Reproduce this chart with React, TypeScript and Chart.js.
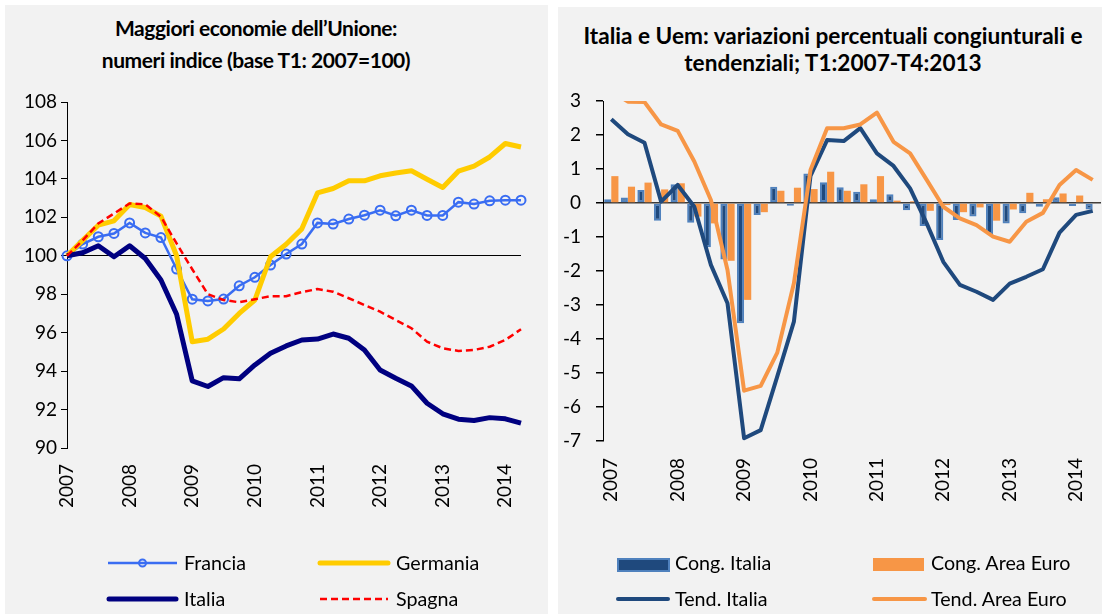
import React, { useEffect, useRef } from "react";
import { Chart, registerables } from "chart.js";

Chart.register(...registerables);

const quarters = [
  "T1 2007", "T2 2007", "T3 2007", "T4 2007",
  "T1 2008", "T2 2008", "T3 2008", "T4 2008",
  "T1 2009", "T2 2009", "T3 2009", "T4 2009",
  "T1 2010", "T2 2010", "T3 2010", "T4 2010",
  "T1 2011", "T2 2011", "T3 2011", "T4 2011",
  "T1 2012", "T2 2012", "T3 2012", "T4 2012",
  "T1 2013", "T2 2013", "T3 2013", "T4 2013",
  "T1 2014", "T2 2014",
];

// Left chart: index numbers (T1 2007 = 100)
const francia = [100.0, 100.61, 100.99, 101.16, 101.71, 101.19, 100.95, 99.31, 97.74, 97.65, 97.75, 98.44, 98.88, 99.52, 100.09, 100.61, 101.71, 101.65, 101.91, 102.11, 102.37, 102.08, 102.37, 102.1, 102.1, 102.79, 102.69, 102.86, 102.89, 102.89];
const germania = [100.0, 100.8, 101.59, 101.82, 102.67, 102.51, 102.06, 100.0, 95.53, 95.66, 96.19, 97.0, 97.7, 99.95, 100.6, 101.4, 103.27, 103.5, 103.9, 103.9, 104.16, 104.31, 104.42, 103.98, 103.55, 104.4, 104.66, 105.14, 105.84, 105.66];
const italia = [100.0, 100.16, 100.52, 99.95, 100.52, 99.86, 98.74, 96.96, 93.49, 93.2, 93.66, 93.6, 94.32, 94.93, 95.31, 95.62, 95.67, 95.93, 95.71, 95.1, 94.06, 93.63, 93.23, 92.33, 91.78, 91.5, 91.43, 91.58, 91.52, 91.29];
const spagna = [100.0, 100.8, 101.68, 102.2, 102.72, 102.68, 102.03, 100.64, 99.3, 98.0, 97.7, 97.58, 97.74, 97.9, 97.9, 98.11, 98.27, 98.13, 97.79, 97.44, 97.09, 96.66, 96.23, 95.53, 95.19, 95.05, 95.1, 95.27, 95.62, 96.18];

// Right chart: percentage changes
const congItalia = [0.11, 0.16, 0.38, -0.52, 0.55, -0.58, -1.3, -1.66, -3.54, -0.35, 0.48, -0.08, 0.87, 0.61, 0.46, 0.33, 0.11, 0.26, -0.21, -0.68, -1.09, -0.5, -0.4, -0.91, -0.6, -0.3, -0.11, 0.17, -0.09, -0.19];
const congEuro = [0.79, 0.48, 0.6, 0.4, 0.58, -0.4, -0.6, -1.7, -2.85, -0.27, 0.36, 0.45, 0.41, 0.92, 0.36, 0.55, 0.79, 0.07, 0.05, -0.23, -0.06, -0.27, -0.13, -0.52, -0.19, 0.3, 0.11, 0.28, 0.22, 0.02];
const tendItalia = [2.46, 2.02, 1.77, 0.04, 0.53, -0.11, -1.82, -2.95, -6.92, -6.68, -5.1, -3.49, 0.8, 1.85, 1.82, 2.2, 1.46, 1.09, 0.43, -0.6, -1.73, -2.41, -2.61, -2.85, -2.37, -2.17, -1.95, -0.87, -0.35, -0.23];
const tendEuro = [3.3, 2.98, 2.97, 2.31, 2.12, 1.22, 0.09, -1.97, -5.52, -5.38, -4.4, -2.36, 0.97, 2.2, 2.2, 2.31, 2.66, 1.8, 1.46, 0.68, -0.11, -0.45, -0.65, -0.99, -1.14, -0.55, -0.29, 0.53, 0.97, 0.68];

const leftTitle = ["Maggiori economie dell\u2019Unione:", "numeri indice (base T1: 2007=100)"];
const rightTitle = ["Italia e Uem: variazioni percentuali congiunturali e", "tendenziali; T1:2007-T4:2013"];

const FAMILY = "Lato, 'Open Sans', sans-serif";
const BLUE_FR = "#3A6DF2";
const YELLOW = "#FFCC00";
const NAVY = "#000080";
const RED = "#FF0000";
const DARKBLUE = "#1F497D";
const LIGHTBLUE = "#4F81BD";
const ORANGE = "#F79646";

const yearTick = (_v: any, i: number) => (quarters[i].startsWith("T1") ? quarters[i].slice(3) : "");

export default function App() {
  const leftRef = useRef<HTMLCanvasElement>(null);
  const rightRef = useRef<HTMLCanvasElement>(null);

  useEffect(() => {
    const tickFont = { family: FAMILY, size: 19 };
    const left = new Chart(leftRef.current as HTMLCanvasElement, {
      type: "line",
      data: {
        labels: quarters,
        datasets: [
          { label: "Francia", data: francia, borderColor: BLUE_FR, borderWidth: 2.5, pointRadius: 4.5, pointBorderWidth: 2, pointBackgroundColor: "rgba(0,0,0,0)", pointBorderColor: BLUE_FR, tension: 0, order: 4 },
          { label: "Germania", data: germania, borderColor: YELLOW, borderWidth: 5, pointRadius: 0, tension: 0, borderJoinStyle: "round", order: 3 },
          { label: "Italia", data: italia, borderColor: NAVY, borderWidth: 5, pointRadius: 0, tension: 0, borderJoinStyle: "round", order: 2 },
          { label: "Spagna", data: spagna, borderColor: RED, borderWidth: 2.5, borderDash: [7, 4], pointRadius: 0, tension: 0, order: 1 },
        ],
      },
      options: {
        responsive: false,
        animation: false,
        layout: { padding: { top: 102, right: 27, bottom: 0, left: 0 } },
        plugins: { legend: { display: false }, title: { display: false }, tooltip: { enabled: false } },
        scales: {
          x: {
            type: "category",
            offset: false,
            grid: { display: false, drawTicks: false },
            border: { display: false },
            ticks: { autoSkip: false, minRotation: 90, maxRotation: 90, padding: 16, color: "#000", font: tickFont, callback: yearTick },
            afterFit: (s: any) => { s.height = 82; s.paddingLeft = 0; s.paddingRight = 0; },
          },
          y: {
            min: 90,
            max: 108,
            ticks: { stepSize: 2, padding: 4, color: "#000", font: tickFont },
            grid: { color: (c: any) => (c.tick && c.tick.value === 100 ? "#000" : "rgba(0,0,0,0)"), tickColor: "#000", tickLength: 6, lineWidth: 1 },
            border: { display: true, color: "#000", width: 1 },
            afterFit: (s: any) => { s.width = 67; s.paddingTop = 0; s.paddingBottom = 0; },
          },
        },
      } as any,
    });

    const right = new Chart(rightRef.current as HTMLCanvasElement, {
      type: "bar",
      data: {
        labels: quarters,
        datasets: [
          { type: "line", label: "Tend. Area Euro", data: tendEuro, borderColor: ORANGE, borderWidth: 4, pointRadius: 0, tension: 0, borderJoinStyle: "round", order: 0 },
          { type: "line", label: "Tend. Italia", data: tendItalia, borderColor: DARKBLUE, borderWidth: 4, pointRadius: 0, tension: 0, borderJoinStyle: "round", order: 1 },
          { type: "bar", label: "Cong. Italia", data: congItalia, backgroundColor: DARKBLUE, borderColor: LIGHTBLUE, borderWidth: 2, borderSkipped: false, categoryPercentage: 0.86, barPercentage: 1, order: 2 },
          { type: "bar", label: "Cong. Area Euro", data: congEuro, backgroundColor: ORANGE, borderWidth: 0, categoryPercentage: 0.86, barPercentage: 1, order: 3 },
        ],
      },
      options: {
        responsive: false,
        animation: false,
        layout: { padding: { top: 101, right: 1, bottom: 0, left: 0 } },
        plugins: { legend: { display: false }, title: { display: false }, tooltip: { enabled: false } },
        scales: {
          x: {
            type: "category",
            offset: true,
            grid: { display: false, drawTicks: false },
            border: { display: false },
            ticks: { autoSkip: false, minRotation: 90, maxRotation: 90, padding: 17, color: "#000", font: tickFont, callback: yearTick },
            afterFit: (s: any) => { s.height = 89; s.paddingLeft = 0; s.paddingRight = 0; },
          },
          y: {
            min: -7,
            max: 3,
            ticks: { stepSize: 1, padding: 15, color: "#000", font: tickFont },
            grid: { color: (c: any) => (c.tick && c.tick.value === 0 ? "#3a3a3a" : "rgba(0,0,0,0)"), tickColor: "#000", tickLength: 7, lineWidth: 1.5 },
            border: { display: true, color: "#000", width: 1 },
            afterFit: (s: any) => { s.width = 53; s.paddingTop = 0; s.paddingBottom = 0; },
          },
        },
      } as any,
    });

    return () => {
      left.destroy();
      right.destroy();
    };
  }, []);

  const txt: React.CSSProperties = { position: "absolute", fontSize: 19.7, color: "#000", lineHeight: "24px", whiteSpace: "nowrap" };

  return (
    <div style={{ position: "absolute", left: 0, top: 0, width: 1102, height: 614, background: "#ffffff", overflow: "hidden", fontFamily: FAMILY }}>
      <div style={{ position: "absolute", left: 5, top: 5, width: 543, height: 609, background: "#f2f2f2" }} />
      <div style={{ position: "absolute", left: 558, top: 7, width: 544, height: 607, background: "#f2f2f2" }} />

      <div style={{ position: "absolute", left: 0, top: 12, width: 512, textAlign: "center", fontWeight: 700, fontSize: 21, letterSpacing: "-0.45px", lineHeight: "32px", color: "#000", whiteSpace: "nowrap" }}>
        {leftTitle[0]}<br />{leftTitle[1]}
      </div>
      <div style={{ position: "absolute", left: 533, top: 21.5, width: 600, textAlign: "center", fontWeight: 700, fontSize: 22.6, lineHeight: "27px", color: "#000", whiteSpace: "nowrap" }}>
        {rightTitle[0]}<br />{rightTitle[1]}
      </div>

      <canvas ref={leftRef} width={548} height={530} style={{ position: "absolute", left: 0, top: 0 }} />
      <canvas ref={rightRef} width={552} height={530} style={{ position: "absolute", left: 550, top: 0 }} />

      <svg width={1102} height={614} style={{ position: "absolute", left: 0, top: 0 }}>
        <line x1={108} y1={563} x2={177} y2={563} stroke={BLUE_FR} strokeWidth={2.5} />
        <circle cx={142.5} cy={563} r={3.5} fill="none" stroke={BLUE_FR} strokeWidth={2} />
        <line x1={320} y1={563} x2={388} y2={563} stroke={YELLOW} strokeWidth={5} strokeLinecap="round" />
        <line x1={109} y1={599} x2={176} y2={599} stroke={NAVY} strokeWidth={5} strokeLinecap="round" />
        <line x1={320} y1={599} x2={388} y2={599} stroke={RED} strokeWidth={2.5} strokeDasharray="7 4" />

        <rect x={618} y={559} width={51} height={12} fill={DARKBLUE} stroke={LIGHTBLUE} strokeWidth={2} />
        <rect x={873} y={558} width={51} height={13} fill={ORANGE} />
        <line x1={618} y1={599} x2={668} y2={599} stroke={DARKBLUE} strokeWidth={4} strokeLinecap="round" />
        <line x1={874} y1={599} x2={925} y2={599} stroke={ORANGE} strokeWidth={4} strokeLinecap="round" />
      </svg>
      <div style={{ ...txt, left: 184, top: 551 }}>Francia</div>
      <div style={{ ...txt, left: 396, top: 551 }}>Germania</div>
      <div style={{ ...txt, left: 184, top: 587 }}>Italia</div>
      <div style={{ ...txt, left: 396, top: 587 }}>Spagna</div>
      <div style={{ ...txt, left: 675, top: 551 }}>Cong. Italia</div>
      <div style={{ ...txt, left: 931, top: 551 }}>Cong. Area Euro</div>
      <div style={{ ...txt, left: 675, top: 587 }}>Tend. Italia</div>
      <div style={{ ...txt, left: 931, top: 587 }}>Tend. Area Euro</div>
    </div>
  );
}
